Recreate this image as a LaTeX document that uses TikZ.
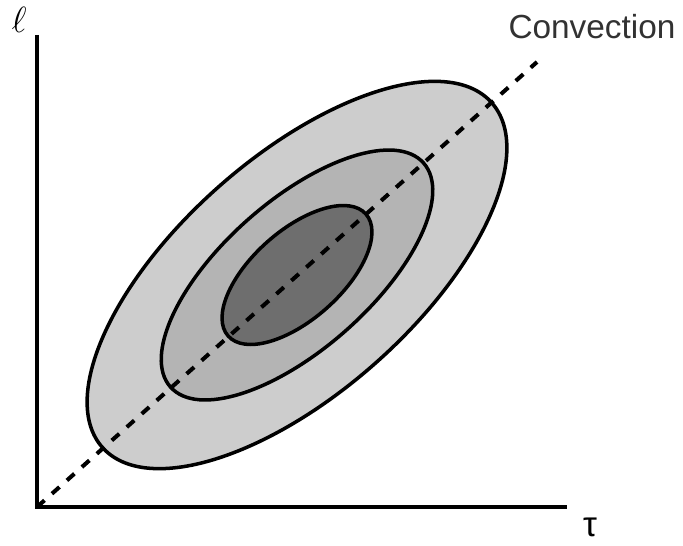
\documentclass[tikz,border=0pt]{standalone}
\usepackage{fontspec}
\usepackage{tikz}
\usetikzlibrary{positioning,calc}
\newfontfamily\labelfont{Liberation Sans}
\definecolor{outergray}{RGB}{205,205,205}
\definecolor{middlegray}{RGB}{180,180,180}
\definecolor{innergray}{RGB}{110,110,110}
\definecolor{labelgray}{RGB}{50,50,50}

\begin{document}
\begin{tikzpicture}[x=0.02cm,y=0.02cm]
    \useasboundingbox (0,0) rectangle (683,545);

    % Axes
    \coordinate (origin) at (37,38);
    \coordinate (ltop) at (37,510);
    \coordinate (tauend) at (567,38);
    \draw[line width=2.8pt] (ltop) -- (origin) -- (tauend);
    \node (ell) at (19,525) {\fontsize{22}{24}\selectfont$\ell$};
    \node (tau) at (590,18) {\labelfont\fontsize{20}{22}\selectfont τ};

    % Nested ellipses around the convection line
    \coordinate (centre) at (297,270);
    \draw[line width=2pt,fill=outergray,rotate around={41.5:(centre)}] (centre) ellipse (260 and 118);
    \draw[line width=2pt,fill=middlegray,rotate around={41.5:(centre)}] (centre) ellipse (169 and 74);
    \draw[line width=2pt,fill=innergray,rotate around={41.5:(centre)}] (centre) ellipse (92 and 44.5);

    % Convection line
    \coordinate (convend) at (537,483);
    \draw[line width=2.3pt,dash pattern=on 5.7pt off 5.7pt] (origin) -- (convend);
    \node[labelgray] (conv) at (592,518) {\labelfont\fontsize{19}{21}\selectfont Convection};
\end{tikzpicture}
\end{document}
